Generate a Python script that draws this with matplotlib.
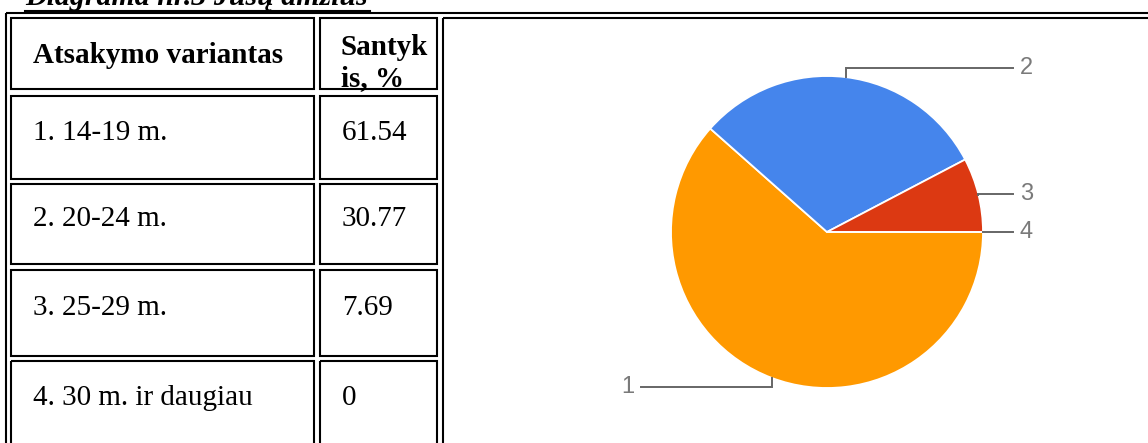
import numpy as np
import matplotlib.pyplot as plt
from matplotlib.patches import Rectangle

# survey answers: age groups and their share, %
options = ['1. 14-19 m.', '2. 20-24 m.', '3. 25-29 m.', '4. 30 m. ir daugiau']
shares = [61.54, 30.77, 7.69, 0]
slice_labels = ['1', '2', '3', '4']
slice_colors = ['#ff9900', '#4585ec', '#dc3912', '#990099']

title = 'Diagrama nr.3 Jūsų amžius'
head_option = 'Atsakymo variantas'
head_share = ['Santyk', 'is, %']

W, H = 1148, 443
serif = 'Liberation Serif'
sans = 'Liberation Sans'

fig = plt.figure(figsize=(W / 100, H / 100), dpi=100)

# table drawn in pixel units (y down)
tab = fig.add_axes([0, 0, 1, 1])
tab.set_xlim(0, W)
tab.set_ylim(H, 0)
tab.axis('off')

# column edges and row edges of the html-like table
col_x = [(11, 314), (320, 437), (443, 1170)]
row_y = [(17.5, 89), (95.5, 178.5), (184, 263.5), (270, 355.5), (361, 470)]
row_base = [140, 226, 315, 405]

def cell(x0, x1, y0, y1):
    tab.add_patch(Rectangle((x0, y0), x1 - x0, y1 - y0, fill=False,
                            ec='black', lw=1.5, joinstyle='miter'))

# outer border
cell(6, 1200, 12.5, 500)
for y0, y1 in row_y:
    cell(col_x[0][0], col_x[0][1], y0, y1)
    cell(col_x[1][0], col_x[1][1], y0, y1)
# chart cell spans all rows
cell(col_x[2][0], col_x[2][1], row_y[0][0], row_y[-1][1])

# title, cut at the top edge, underlined
tab.text(25, 5, title, family=serif, weight='bold', style='italic',
         fontsize=21.5, ha='left', va='baseline')
tab.plot([25, 370], [10.5, 10.5], color='black', lw=1.5)

# header
tab.text(158, 63, head_option, family=serif, weight='bold', fontsize=21,
         ha='center', va='baseline')
for line, yb in zip(head_share, [55, 86]):
    tab.text(341, yb, line, family=serif, weight='bold', fontsize=21,
             ha='left', va='baseline')

for opt, val, yb in zip(options, shares, row_base):
    tab.text(33, yb, opt, family=serif, fontsize=21, ha='left', va='baseline')
    tab.text(342, yb, f'{val:g}', family=serif, fontsize=21,
             ha='left', va='baseline')

# pie chart, centre (827, 232), radius 156 px
cx, cy, r = 827, 232, 156
pie_ax = fig.add_axes([(cx - r) / W, (H - cy - r) / H, 2 * r / W, 2 * r / H])
wedges, _ = pie_ax.pie(shares, colors=slice_colors, startangle=0,
                       counterclock=False, radius=1,
                       wedgeprops=dict(edgecolor='white', linewidth=1.3))
pie_ax.set_xlim(-1, 1)
pie_ax.set_ylim(-1, 1)
pie_ax.axis('off')

# leader lines: from slice midpoint on the rim to the label row
label_y = {'1': -0.995, '2': 1.05, '3': 0.244, '4': 0.0}
for w, lab in zip(wedges, slice_labels):
    mid = np.deg2rad((w.theta1 + w.theta2) / 2)
    ax_, ay_ = np.cos(mid), np.sin(mid)
    ly = label_y[lab]
    side = 1 if ax_ >= 0 else -1
    ex = 1.192 * side
    pie_ax.plot([ax_, ax_, ex], [ay_, ly, ly], color='#666666', lw=1.4,
                clip_on=False, solid_joinstyle='miter')
    pie_ax.text(ex + 0.045 * side, ly, lab, family=sans, fontsize=17,
                color='#7a7a7a', ha='left' if side > 0 else 'right',
                va='center', clip_on=False)

fig.savefig('out.png', dpi=100)
